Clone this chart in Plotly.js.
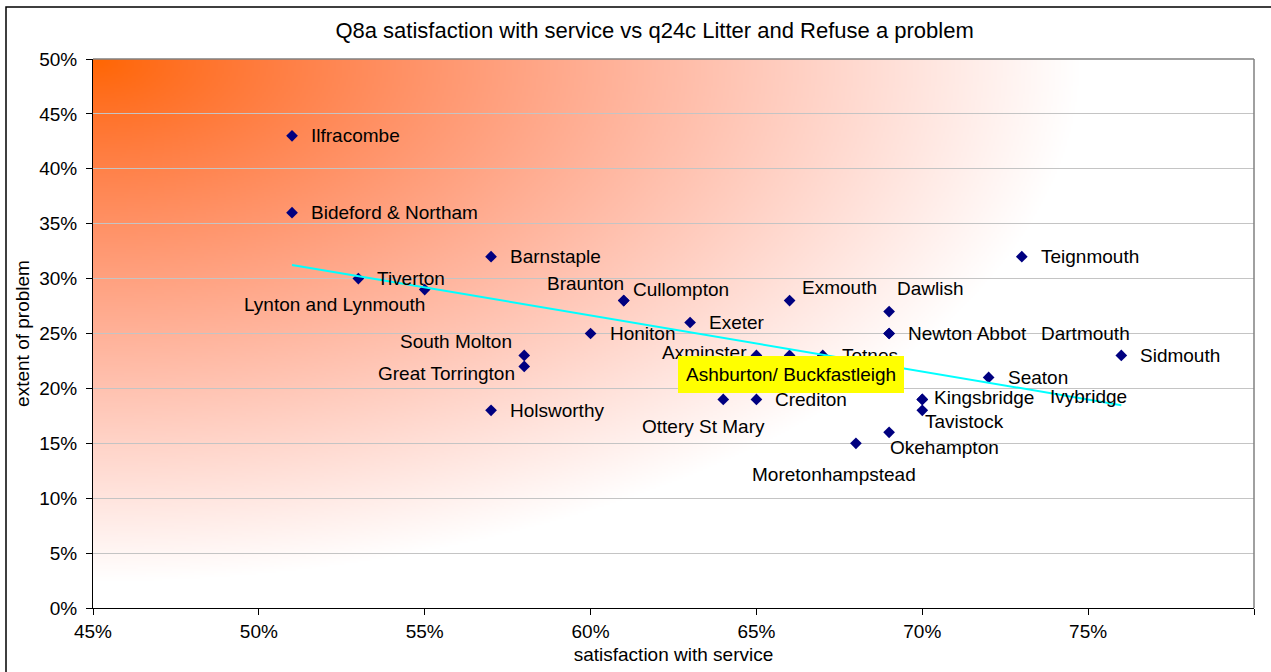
<!DOCTYPE html>
<html>
<head>
<meta charset="utf-8">
<script src="https://cdn.plot.ly/plotly-3.0.1.min.js"></script>
<style>html,body{margin:0;padding:0;background:#fff;}#chart{width:1271px;height:672px;}</style>
</head>
<body>
<div id="chart"></div>
<script>
// ---- data ----
const towns = ["Ilfracombe","Bideford & Northam","Barnstaple","Tiverton","Lynton and Lynmouth",
  "Braunton","Cullompton","Exeter","Honiton","Exmouth","Dawlish","Newton Abbot","Dartmouth",
  "Teignmouth","Sidmouth","Seaton","Ivybridge","South Molton","Great Torrington","Holsworthy",
  "Axminster","Totnes","Ottery St Mary","Crediton","Kingsbridge","Tavistock","Okehampton",
  "Moretonhampstead","Ashburton/ Buckfastleigh"];
const satisfaction = [51,51,57,53,55, 61,61,63,60,66,69,69,69, 73,76,72,70,58,58,57, 65,67,64,65,70,70,69, 68,66];
const problem      = [43,36,32,30,29, 28,28,26,25,28,27,25,25, 32,23,21,19,23,22,18, 23,23,19,19,19,18,16, 15,23];
const xTickVals = [45,50,55,60,65,70,75,80];
const yTickVals = [0,5,10,15,20,25,30,35,40,45,50];

// ---- label placement (style only) ----
const place = {
  "Lynton and Lynmouth": {a:"right", dx:2, dy:-15},
  "Braunton": {a:"right", dx:2, dy:17},
  "Cullompton": {a:"left", dx:7, dy:11},
  "Exmouth": {a:"left", dx:10, dy:13},
  "Dawlish": {a:"left", dx:6, dy:23},
  "Dartmouth": {a:"left", dx:150, dy:0},
  "South Molton": {a:"right", dx:-10, dy:14},
  "Great Torrington": {a:"right", dx:-7, dy:-7},
  "Axminster": {a:"right", dx:-7, dy:3},
  "Ottery St Mary": {a:"center", dx:-20, dy:-27},
  "Okehampton": {a:"left", dx:-1, dy:-15},
  "Moretonhampstead": {a:"center", dx:-22, dy:-31},
  "Tavistock": {a:"left", dx:1, dy:-11},
  "Ivybridge": {a:"left", dx:126, dy:3},
  "Kingsbridge": {a:"left", dx:10, dy:2},
  "Ashburton/ Buckfastleigh": {a:"center", dx:1, dy:-19, box:true}
};

const FONT = "Liberation Sans, Arial, sans-serif";
const FS = 19;

// trend line (least squares on the data)
const n = satisfaction.length;
const mx = satisfaction.reduce((s,v)=>s+v,0)/n;
const my = problem.reduce((s,v)=>s+v,0)/n;
let sxy=0, sxx=0;
for (let i=0;i<n;i++){ sxy += (satisfaction[i]-mx)*(problem[i]-my); sxx += (satisfaction[i]-mx)**2; }
const slope = sxy/sxx, icpt = my - slope*mx;
const xmin = Math.min(...satisfaction), xmax = Math.max(...satisfaction);
const trendX = [xmin, xmax];
const trendY = trendX.map(x => icpt + slope*x);

// gradient background image (orange corner fading to white)
function gradientURL(){
  const W=580, H=275;
  const c=document.createElement("canvas"); c.width=W; c.height=H;
  const ctx=c.getContext("2d");
  const img=ctx.createImageData(W,H);
  for(let y=0;y<H;y++){
    for(let x=0;x<W;x++){
      const u=x/W, v=y/H;
      let t=Math.sqrt((u/0.85)**2+(v/0.95)**2);
      if(t>1)t=1;
      const k=(y*W+x)*4;
      img.data[k]=255;
      img.data[k+1]=Math.round(102+153*Math.pow(t,1.1));
      img.data[k+2]=Math.round(255*Math.pow(t,0.8));
      img.data[k+3]=255;
    }
  }
  ctx.putImageData(img,0,0);
  return c.toDataURL("image/png");
}

const annotations = towns.map((name,i)=>{
  const p = place[name] || {a:"left", dx:17, dy:0};
  const ann = {
    x: satisfaction[i], y: problem[i], xref:"x", yref:"y",
    text: name, showarrow:false,
    xanchor: p.a, yanchor:"middle",
    xshift: p.dx, yshift: p.dy,
    font:{family:FONT, size:FS, color:"#000"}
  };
  if (p.box){ ann.bgcolor="#FFFF00"; ann.borderpad=8; ann.borderwidth=0; }
  return ann;
});

const traces = [
  {x: satisfaction, y: problem, type:"scatter", mode:"markers",
   marker:{symbol:"diamond", size:9, color:"#000080"}, hoverinfo:"skip", showlegend:false},
  {x: trendX, y: trendY, type:"scatter", mode:"lines",
   line:{color:"#00FFFF", width:2}, hoverinfo:"skip", showlegend:false}
];

const L=93, R=17, T=59, B=64;
const pw=1271-L-R, ph=672-T-B;
const layout = {
  width:1271, height:672,
  margin:{l:L, r:R, t:T, b:B, pad:0},
  paper_bgcolor:"#fff", plot_bgcolor:"rgba(0,0,0,0)",
  font:{family:FONT, size:FS, color:"#000"},
  title:{text:"Q8a satisfaction with service vs q24c Litter and Refuse a problem",
    font:{family:FONT, size:22, color:"#000"}, x:0.515, xanchor:"center", y:0.955, yanchor:"middle"},
  xaxis:{range:[45,80], tickvals:xTickVals, ticktext:xTickVals.map(v=>v+"%"),
    showgrid:false, zeroline:false, showline:true, linecolor:"#000", linewidth:1,
    ticks:"outside", ticklen:6, tickcolor:"#000", tickfont:{family:FONT,size:FS},
    title:{text:"satisfaction with service", font:{family:FONT,size:FS}, standoff:6}},
  yaxis:{range:[0,50], tickvals:yTickVals, ticktext:yTickVals.map(v=>v+"%"),
    showgrid:true, gridcolor:"#c4c4c4", gridwidth:1, zeroline:false,
    showline:true, linecolor:"#000", linewidth:1, ticklabelstandoff:5,
    ticks:"outside", ticklen:6, tickcolor:"#000", tickfont:{family:FONT,size:FS},
    title:{text:"extent of problem", font:{family:FONT,size:FS}, standoff:4}},
  images:[{source:gradientURL(), xref:"paper", yref:"paper", x:0, y:1, sizex:1, sizey:1,
    sizing:"stretch", xanchor:"left", yanchor:"top", layer:"below"}],
  shapes:[
    {type:"line", xref:"paper", yref:"paper", x0:0, x1:1, y0:1, y1:1, line:{color:"#808080", width:1.5}},
    {type:"line", xref:"paper", yref:"paper", x0:1, x1:1, y0:0, y1:1, line:{color:"#808080", width:1.5}},
    {type:"rect", xref:"paper", yref:"paper",
     x0:(6-L)/pw, x1:(1285-L)/pw, y0:(T+ph-690)/ph, y1:(T+ph-7)/ph,
     line:{color:"#000", width:1.5}, fillcolor:"rgba(0,0,0,0)"}
  ],
  annotations: annotations
};

Plotly.newPlot("chart", traces, layout, {displayModeBar:false, staticPlot:true});
</script>
</body>
</html>
